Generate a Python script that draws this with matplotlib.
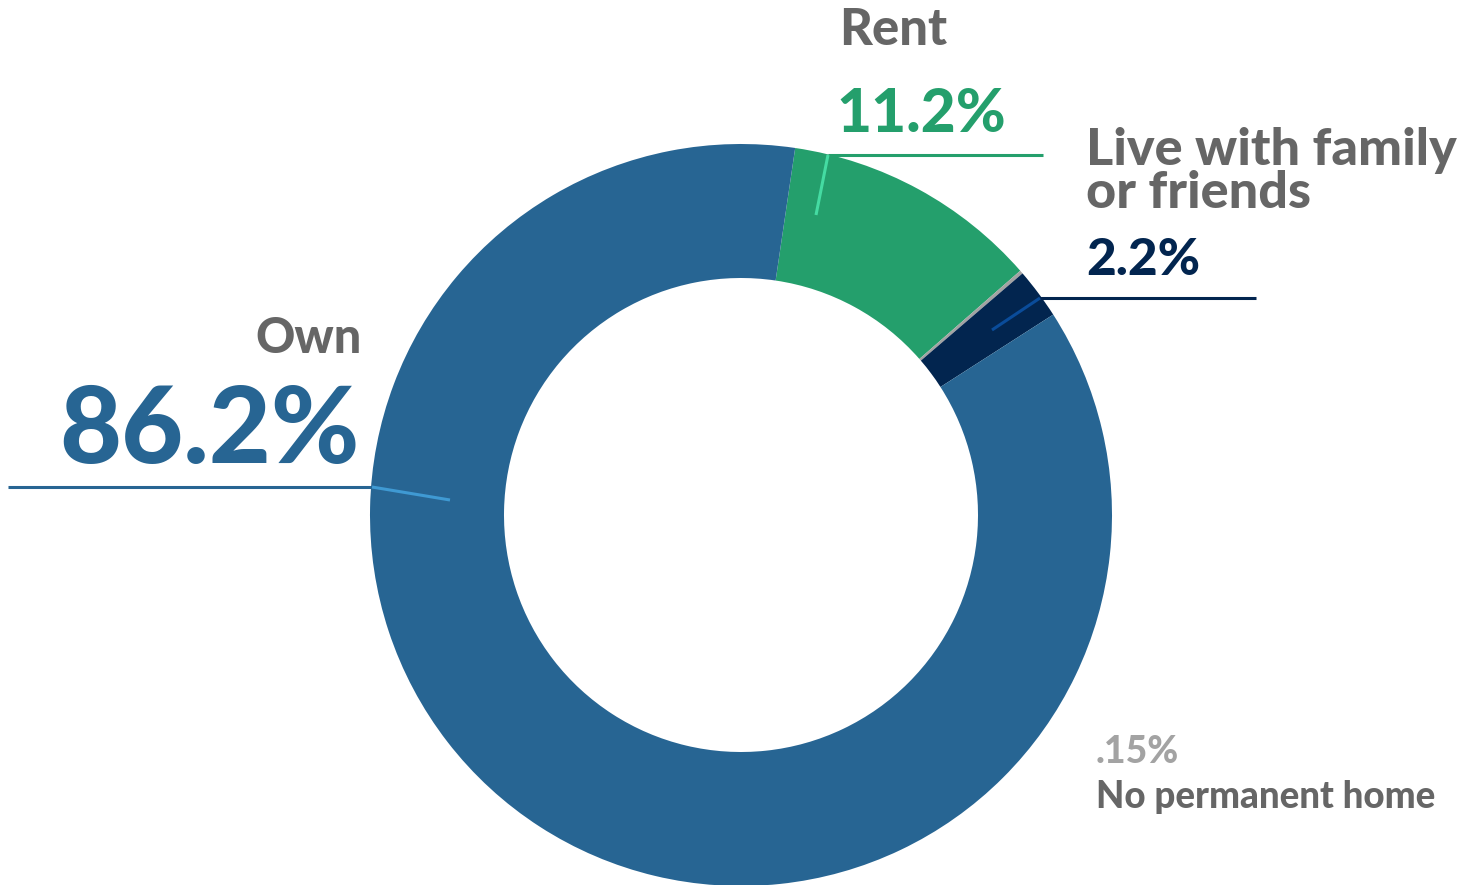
import matplotlib
matplotlib.use("Agg")
import matplotlib.pyplot as plt

# Data
categories = ["Rent", "No permanent home", "Live with family\nor friends", "Own"]
values = [11.2, 0.15, 2.2, 86.2]
pct_labels = ["11.2%", ".15%", "2.2%", "86.2%"]
colors = ["#249F6C", "#A3A3A3", "#02254F", "#276593"]

W, H = 1480, 885
fig = plt.figure(figsize=(W / 100, H / 100), dpi=100)
ax = fig.add_axes([0, 0, 1, 1])
ax.set_xlim(0, W)
ax.set_ylim(0, H)
ax.axis("off")

def py(y):
    return H - y

cx, cy, R, ring = 741, py(515), 371, 134
ax.pie(values, colors=colors, startangle=81.6, counterclock=False,
       center=(cx, cy), radius=R, normalize=True,
       wedgeprops=dict(width=ring, linewidth=0))
ax.set_xlim(0, W)
ax.set_ylim(0, H)
ax.set_aspect("equal")

FONT = "Lato"
GREY = "#666666"

def txt(x, y, s, size, color, ha="left"):
    ax.text(x, py(y), s, fontsize=size, color=color, ha=ha, va="baseline",
            fontfamily=FONT, fontweight="black")

# Leader lines
def line(x0, y0, x1, y1, color, lw):
    ax.plot([x0, x1], [py(y0), py(y1)], color=color, lw=lw, solid_capstyle="butt")

line(8, 487, 372, 487, "#276593", 2.2)
line(372, 487, 450, 500, "#3F9AD3", 2.2)
line(828, 155, 1043, 155, "#249F6C", 2.2)
line(828, 155, 816, 215, "#45DBA2", 2.2)
line(1040, 298, 1256, 298, "#02254F", 2.2)
line(1040, 298, 992, 330, "#0A4C9A", 2.2)

# Labels
txt(362, 353, "Own", 35, GREY, ha="right")
txt(360, 463, pct_labels[3], 77, colors[3], ha="right")
txt(839, 45, "Rent", 36.5, GREY)
txt(836, 132, pct_labels[0], 43.5, colors[0])
txt(1086, 165, "Live with family", 37.5, GREY)
txt(1086, 208, "or friends", 37.5, GREY)
txt(1086, 275, pct_labels[2], 37, colors[2])
txt(1096, 763, pct_labels[1], 27, "#A3A3A3")
txt(1096, 808, "No permanent home", 26.5, GREY)

fig.savefig("out.png", dpi=100)
